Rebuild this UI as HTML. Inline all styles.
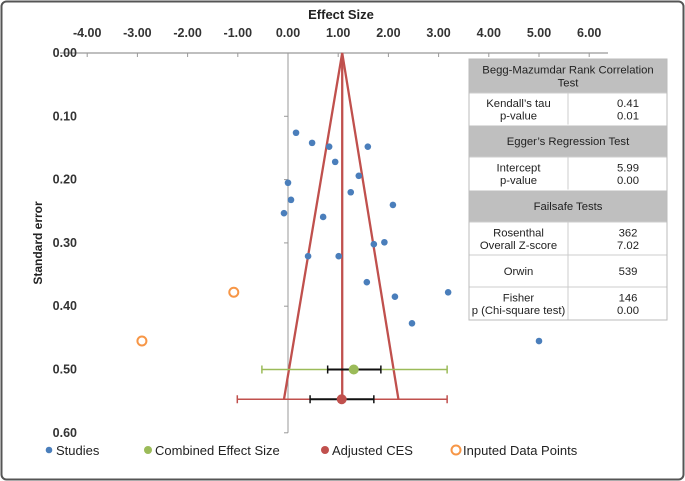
<!DOCTYPE html>
<html><head><meta charset="utf-8"><style>
html,body{margin:0;padding:0;background:#fff;}
svg{display:block;font-family:"Liberation Sans",sans-serif;}
.tk{font-size:12.5px;font-weight:bold;fill:#333;}
.tb{font-family:"Liberation Sans Narrow","Liberation Sans",sans-serif;font-size:11.3px;fill:#222;}
.lg{font-family:"Liberation Sans Narrow","Liberation Sans",sans-serif;font-size:13px;fill:#222;}
</style></head><body>
<svg id="chart" width="685" height="481" viewBox="0 0 685 481">
<rect x="1.5" y="1.5" width="682" height="478" rx="5" fill="#fff" stroke="#555" stroke-width="2"/>
<g id="axes"></g><g id="marks"></g>
<g id="tbl"></g>
<g id="legend"></g>
</svg>
<script>
const xTicks=[-4,-3,-2,-1,0,1,2,3,4,5,6];
const yTicks=[0,0.1,0.2,0.3,0.4,0.5,0.6];
const studyX=[0.16,0.48,0.82,1.59,0.94,1.41,0.0,1.25,0.06,2.09,-0.08,0.70,1.71,1.92,0.40,1.01,1.57,2.13,3.19,2.47,5.00];
const studySE=[0.126,0.142,0.148,0.148,0.172,0.194,0.205,0.220,0.232,0.240,0.253,0.259,0.302,0.299,0.321,0.321,0.362,0.385,0.378,0.427,0.455];
const imputedX=[-1.08,-2.91];
const imputedSE=[0.378,0.455];
const combined=[1.31,0.50,0.79,1.85,-0.52,3.17];
const adjusted=[1.07,0.547,0.44,1.71,-1.01,3.17];
const funnel=[1.08,-0.08,2.20,0.547];
const X=v=>288+v*50.2, Y=v=>53+v*633;
const NS="http://www.w3.org/2000/svg";
function mk(p,t,a,txt){const e=document.createElementNS(NS,t);for(const k in a)e.setAttribute(k,a[k]);if(txt!==undefined)e.textContent=txt;document.getElementById(p).appendChild(e);return e;}
let e;
e=mk('axes','text',{x:341,y:19,'text-anchor':'middle','font-size':'13','font-weight':'bold',fill:'#222'},'Effect Size');

e=mk('axes','text',{x:0,y:0,transform:'translate(42,243) rotate(-90)','text-anchor':'middle','font-size':'12','font-weight':'bold',fill:'#222'},'Standard error');

e=mk('axes','line',{x1:60,x2:608,y1:Y(0),y2:Y(0),stroke:'#999','stroke-width':1.2});

e=mk('axes','line',{x1:X(0),x2:X(0),y1:Y(0),y2:Y(0.6),stroke:'#999','stroke-width':1});

xTicks.forEach(t=>{
 e=mk('axes','line',{x1:X(t),x2:X(t),y1:Y(0),y2:Y(0)+4,stroke:'#999'});
 
 e=mk('axes','text',{x:X(t),y:37,'text-anchor':'middle',class:'tk'},t.toFixed(2));
 
});
yTicks.forEach(t=>{
 e=mk('axes','line',{x1:X(0)-4,x2:X(0),y1:Y(t),y2:Y(t),stroke:'#999'});
 
 e=mk('axes','text',{x:77,y:Y(t)+4,'text-anchor':'end',class:'tk'},t.toFixed(2));
 
});
e=mk('marks','polyline',{points:`${X(funnel[1])},${Y(funnel[3])} ${X(funnel[0])},${Y(0)} ${X(funnel[2])},${Y(funnel[3])}`,fill:'none',stroke:'#c0504d','stroke-width':2.3});

e=mk('marks','line',{x1:X(funnel[0]),x2:X(funnel[0]),y1:Y(0),y2:Y(funnel[3]),stroke:'#c0504d','stroke-width':2.3});

studyX.forEach((v,i)=>{
 e=mk('marks','circle',{cx:X(v),cy:Y(studySE[i]),r:3.3,fill:'#4a7ebb'});
 
});
imputedX.forEach((v,i)=>{
 e=mk('marks','circle',{cx:X(v),cy:Y(imputedSE[i]),r:4.5,fill:'#fff',stroke:'#f79646','stroke-width':2});
 
});
function ces(d,col,name){
 const y=Y(d[1]);
 e=mk('marks','line',{x1:X(d[4]),x2:X(d[5]),y1:y,y2:y,stroke:col,'stroke-width':1.5});
 
 [d[4],d[5]].forEach(v=>{e=mk('marks','line',{x1:X(v),x2:X(v),y1:y-4,y2:y+4,stroke:col,'stroke-width':1.5});});
 e=mk('marks','line',{x1:X(d[2]),x2:X(d[3]),y1:y,y2:y,stroke:'#111','stroke-width':2});
 
 [d[2],d[3]].forEach(v=>{e=mk('marks','line',{x1:X(v),x2:X(v),y1:y-4,y2:y+4,stroke:'#111','stroke-width':1.5});});
 e=mk('marks','circle',{cx:X(d[0]),cy:y,r:5,fill:col});
 
}
ces(combined,'#9bbb59','combined-effect-size');
ces(adjusted,'#c0504d','adjusted-ces');
const L=469,M=568,R=667;
const rows=[[59,93,'h',['Begg-Mazumdar Rank Correlation','Test']],[93,125,'r',['Kendall\u2019s tau','p-value'],['0.41','0.01']],[125,157,'h',['Egger\u2019s Regression Test']],[157,190,'r',['Intercept','p-value'],['5.99','0.00']],[190,222,'h',['Failsafe Tests']],[222,255,'r',['Rosenthal','Overall Z-score'],['362','7.02']],[255,287,'r',['Orwin'],['539']],[287,320,'r',['Fisher','p (Chi-square test)'],['146','0.00']]];
rows.forEach(r=>{
 const [y0,y1,t,a,b]=r;
 e=mk('tbl','rect',{x:L,y:y0,width:R-L,height:y1-y0,fill:t==='h'?'#bfbfbf':'#fff',stroke:t==='h'?'#fff':'#ccc','stroke-width':1});
 
 const cy=(y0+y1)/2;
 if(t==='h'){a.forEach((s,i)=>{e=mk('tbl','text',{x:(L+R)/2,y:cy+4+(i-(a.length-1)/2)*13,'text-anchor':'middle',class:'tb'},s);});}
 else{
  e=mk('tbl','line',{x1:M,x2:M,y1:y0,y2:y1,stroke:'#ccc'});
  a.forEach((s,i)=>{e=mk('tbl','text',{x:(L+M)/2,y:cy+4+(i-(a.length-1)/2)*12.5,'text-anchor':'middle',class:'tb'},s);});
  b.forEach((s,i)=>{e=mk('tbl','text',{x:628,y:cy+4+(i-(b.length-1)/2)*12.5,'text-anchor':'middle',class:'tb'},s);});
 }
});
e=mk('tbl','rect',{x:L,y:59,width:R-L,height:261,fill:'none',stroke:'#bbb'});

const lg=[[49,'Studies','dot','#4a7ebb'],[148,'Combined Effect Size','big','#9bbb59'],[325,'Adjusted CES','big','#c0504d'],[456,'Inputed Data Points','ring','#f79646']];
lg.forEach(l=>{
 const [x,s,k,c]=l;
 e=mk('legend','circle',k==='ring'?{cx:x,cy:450,r:4.5,fill:'#fff',stroke:c,'stroke-width':2}:{cx:x,cy:450,r:k==='dot'?3.3:4,fill:c});
 
 e=mk('legend','text',{x:x+7,y:455,class:'lg'},s);
 
});
</script>
</body></html>
